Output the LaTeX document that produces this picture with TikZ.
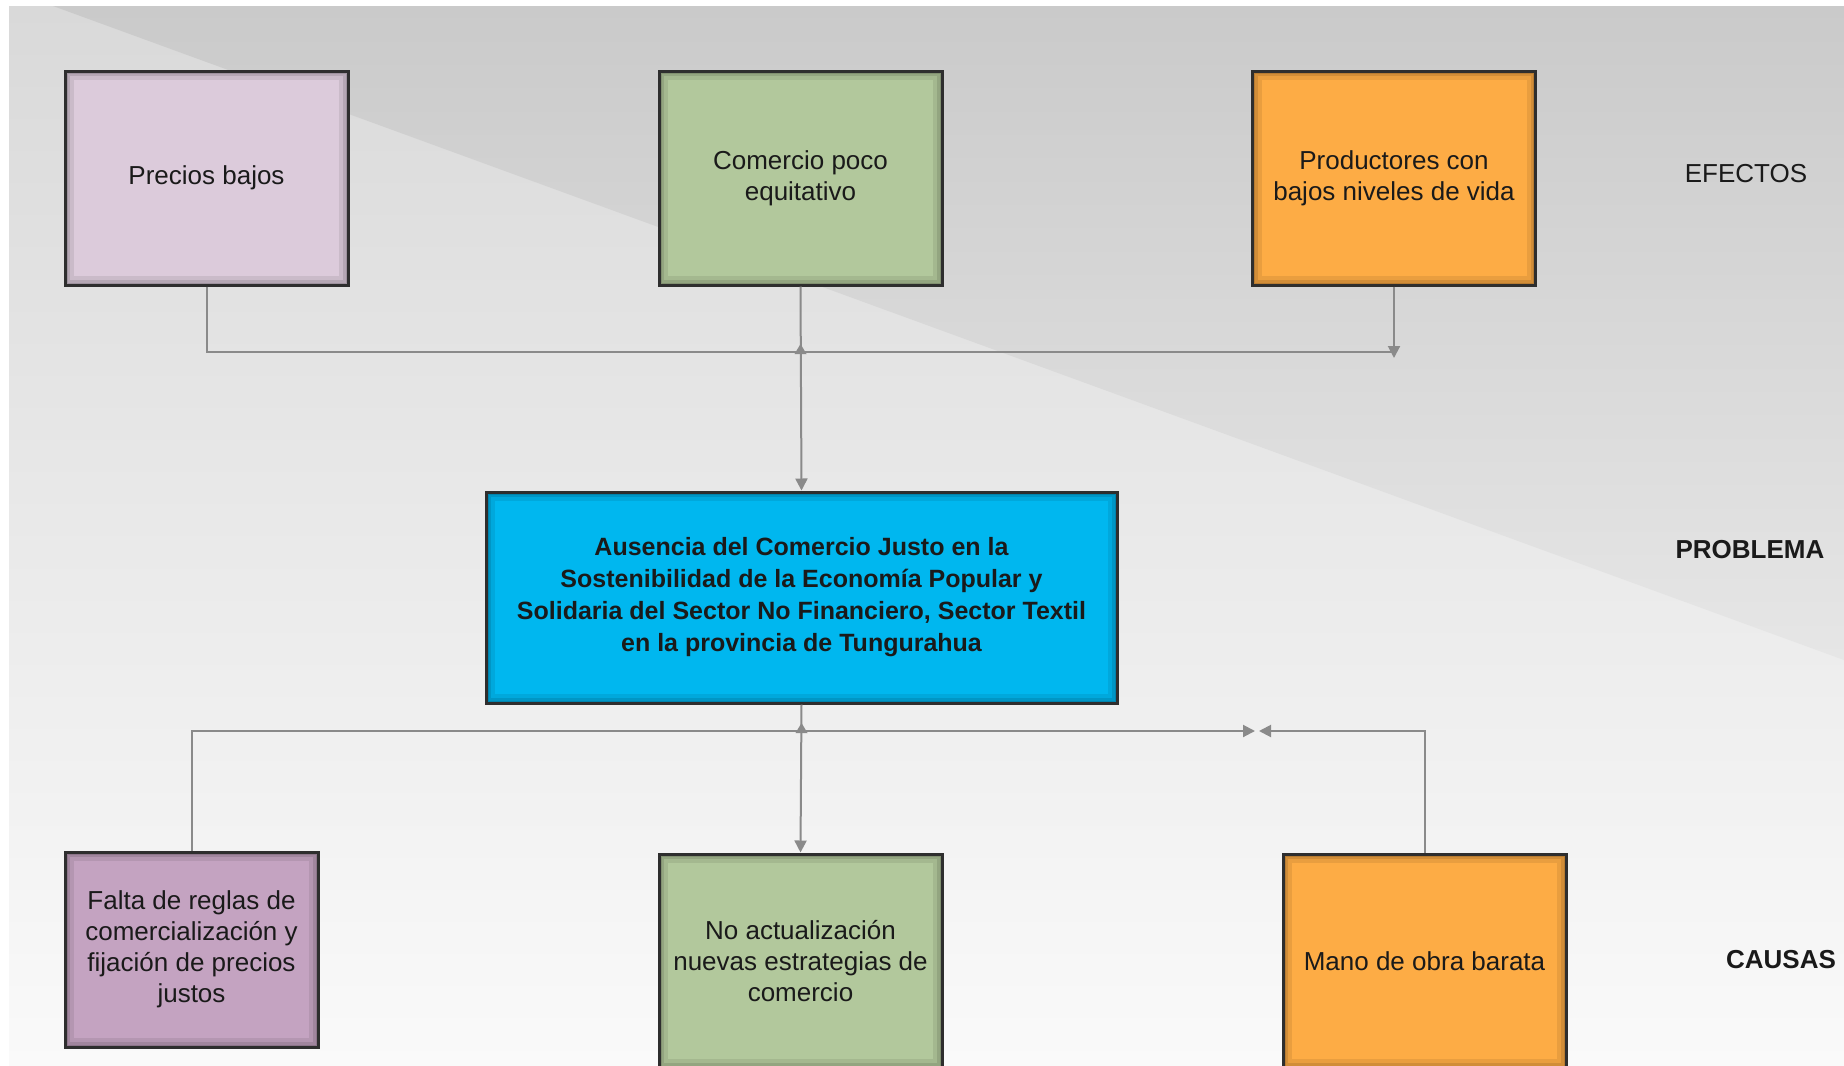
\documentclass[tikz,border=0pt]{standalone}
\usepackage{fontspec}
\setmainfont{Liberation Sans}
\usetikzlibrary{arrows.meta}
\definecolor{bgtop}{HTML}{D9D9D9}
\definecolor{bgbot}{HTML}{FAFAFA}
\definecolor{tritop}{HTML}{CACACA}
\definecolor{tribot}{HTML}{E6E6E6}
\definecolor{lila}{HTML}{DCCBDB}
\definecolor{lilados}{HTML}{C4A3C1}
\definecolor{verde}{HTML}{B2C89C}
\definecolor{naranja}{HTML}{FDAC45}
\definecolor{celeste}{HTML}{00B7EF}
\definecolor{linea}{HTML}{8A8A8A}
\definecolor{borde}{HTML}{2E2E2E}
\definecolor{texto}{HTML}{1A1A1A}
\tikzset{
  boxbase/.style={draw=borde, line width=1.5pt, align=center, text=texto,
    inner sep=0pt, font=\fontsize{13pt}{15.5pt}\selectfont,
    path picture={
      \draw[black,opacity=0.08,line width=9pt]
        (path picture bounding box.south west) rectangle (path picture bounding box.north east);
      \draw[black,opacity=0.10,line width=5pt]
        (path picture bounding box.south west) rectangle (path picture bounding box.north east);
      \draw[black,opacity=0.12,line width=2.5pt]
        (path picture bounding box.south west) rectangle (path picture bounding box.north east);}},
  effbox/.style={boxbase, minimum width=141.5pt, minimum height=107pt},
  probbox/.style={boxbase, fill=celeste, minimum width=315.5pt, minimum height=105.5pt,
    font=\bfseries\fontsize{12.5pt}{16pt}\selectfont},
  conn/.style={draw=linea, line width=1pt},
  tip/.style={-{Triangle[length=6pt,width=6pt]}},
  caret/.style={fill=linea, draw=none},
  sidelabel/.style={text=texto, font=\fontsize{13pt}{15pt}\selectfont}
}
\begin{document}
\begin{tikzpicture}[x=0.5pt,y=-0.5pt]
\useasboundingbox (0,0) rectangle (1844,1066);
% background
\fill[white] (0,0) rectangle (1844,1066);
\shade[top color=bgtop, bottom color=bgbot] (9,6) rectangle (1844,1066);
\shade[top color=tritop, bottom color=tribot] (53,6) -- (1844,6) -- (1844,660) -- cycle;

% effects
\node[effbox, fill=lila] (pb) at (206.5,178) {Precios bajos};
\node[effbox, fill=verde] (cp) at (800.5,178) {Comercio poco\\equitativo};
\node[effbox, fill=naranja] (pn) at (1394,178) {Productores con\\bajos niveles de vida};

% problem
\node[probbox] (prob) at (801.5,597.5) {Ausencia del Comercio Justo en la\\Sostenibilidad de la Economía Popular y\\Solidaria del Sector No Financiero, Sector Textil\\en la provincia de Tungurahua};

% causes
\node[boxbase, fill=lilados, minimum width=126.5pt, minimum height=97.5pt] (falta) at (191.5,949.5) {Falta de reglas de\\comercialización y\\fijación de precios\\justos};
\node[effbox, fill=verde] (noact) at (800.5,961) {No actualización\\nuevas estrategias de\\comercio};
\node[effbox, fill=naranja] (mano) at (1424.5,961) {Mano de obra barata};

% side labels
\node[sidelabel] (efectos) at (1746,174) {EFECTOS};
\node[sidelabel, font=\bfseries\fontsize{13pt}{15pt}\selectfont] (problema) at (1750,550) {PROBLEMA};
\node[sidelabel, font=\bfseries\fontsize{13pt}{15pt}\selectfont] (causas) at (1781,960) {CAUSAS};

% upper connectors
\coordinate (topjoin) at (pn.south |- 0,352);
\coordinate (toptip) at (pn.south |- 0,358);
\draw[conn] (pb.south) |- (topjoin);
\draw[conn, tip] (pn.south) -- (toptip);
\draw[conn, tip] (cp.south) -- (prob.north);
\coordinate (cross1) at (cp.south |- 0,352);
\fill[caret] ([xshift=-3pt,yshift=-1pt]cross1) -- ([yshift=4pt]cross1) -- ([xshift=3pt,yshift=-1pt]cross1) -- cycle;

% lower connectors
\coordinate (lefttip) at (1255,731);
\coordinate (righttip) at (1259,731);
\draw[conn, tip] (falta.north) |- (lefttip);
\draw[conn, tip] (mano.north) |- (righttip);
\draw[conn, tip] (prob.south) -- (noact.north);
\coordinate (cross2) at (prob.south |- 0,731);
\fill[caret] ([xshift=-3pt,yshift=-1pt]cross2) -- ([yshift=4pt]cross2) -- ([xshift=3pt,yshift=-1pt]cross2) -- cycle;
\end{tikzpicture}
\end{document}
